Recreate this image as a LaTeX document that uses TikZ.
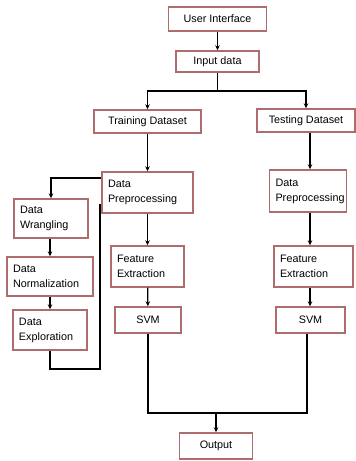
\documentclass[tikz,border=0pt]{standalone}
\usepackage{fontspec}
\setmainfont{Liberation Sans}
\usetikzlibrary{arrows.meta}
\definecolor{boxred}{RGB}{175,108,108}
\tikzset{
  blk/.style={draw=boxred,line width=1.4pt,fill=white,inner sep=0pt,
    font=\fontsize{10.8}{15}\selectfont},
  multi/.style={blk,align=left,inner xsep=6pt},
  arr/.style={-{Stealth[length=5pt,width=4.5pt]},line width=1.2pt},
  line/.style={line width=1.1pt}
}
\begin{document}
\begin{tikzpicture}[x=1pt,y=-1pt]
\useasboundingbox (0,0) rectangle (356,461);

\node[blk,minimum width=98pt,minimum height=24pt] (ui) at (217.5,19) {User Interface};
\node[blk,minimum width=83pt,minimum height=21pt] (input) at (217.5,61.5) {Input data};
\node[blk,minimum width=107pt,minimum height=23pt] (train) at (147.5,121.5) {Training Dataset};
\node[blk,minimum width=98pt,minimum height=23pt] (test) at (306,120.5) {Testing Dataset};

\node[multi,text width=79pt,minimum height=41pt] (prep1) at (147.5,192.5) {Data\\Preprocessing};
\node[multi,text width=65pt,minimum height=42pt] (prep2) at (308,191) {Data\\Preprocessing};

\node[multi,text width=62pt,minimum height=39pt] (wrang) at (51,218.5) {Data\\Wrangling};
\node[multi,text width=74pt,minimum height=39pt] (norm) at (50,276.5) {Data\\Normalization};
\node[multi,text width=62pt,minimum height=40pt] (explo) at (50,330) {Data\\Exploration};

\node[multi,text width=61pt,minimum height=41pt] (feat1) at (147.5,266.5) {Feature\\Extraction};
\node[multi,text width=67pt,minimum height=41pt] (feat2) at (313.5,266.5) {Feature\\Extraction};
\node[blk,minimum width=66pt,minimum height=26pt] (svm1) at (148,320) {SVM};
\node[blk,minimum width=69pt,minimum height=26pt] (svm2) at (310.5,320) {SVM};

\node[blk,minimum width=73pt,minimum height=26pt] (out) at (216,446) {Output};

\coordinate (split) at (217.5,91);
\coordinate (lb) at (100,369);
\coordinate (ret) at (100,204);
\coordinate (join) at (216,413);

\draw[arr] (ui) -- (input);
\draw[line] (input) -- (split);
\draw[arr] (split) -| (train);
\draw[arr] (split) -| (test);

\draw[arr] (train) -- (prep1);
\draw[arr] ([yshift=14.5pt]prep1.west) -| (wrang);
\draw[arr] (wrang.south -| norm.north) -- (norm);
\draw[arr] (norm.south -| explo.north) -- (explo);
\draw[line] (explo.south) |- (lb) -- (ret);
\draw[arr] (prep1) -- (feat1);
\draw[arr] (feat1) -- (svm1);

\draw[arr] (test.south -| 310,0) -- (prep2.north -| 310,0);
\draw[arr] (prep2.south -| 310,0) -- (feat2.north -| 310,0);
\draw[arr] (feat2.south -| 310,0) -- (svm2.north -| 310,0);

\draw[line] (svm1) |- (join);
\draw[line] (svm2.south -| 307,0) |- (join);
\draw[arr] (join) -- (out);
\end{tikzpicture}
\end{document}
